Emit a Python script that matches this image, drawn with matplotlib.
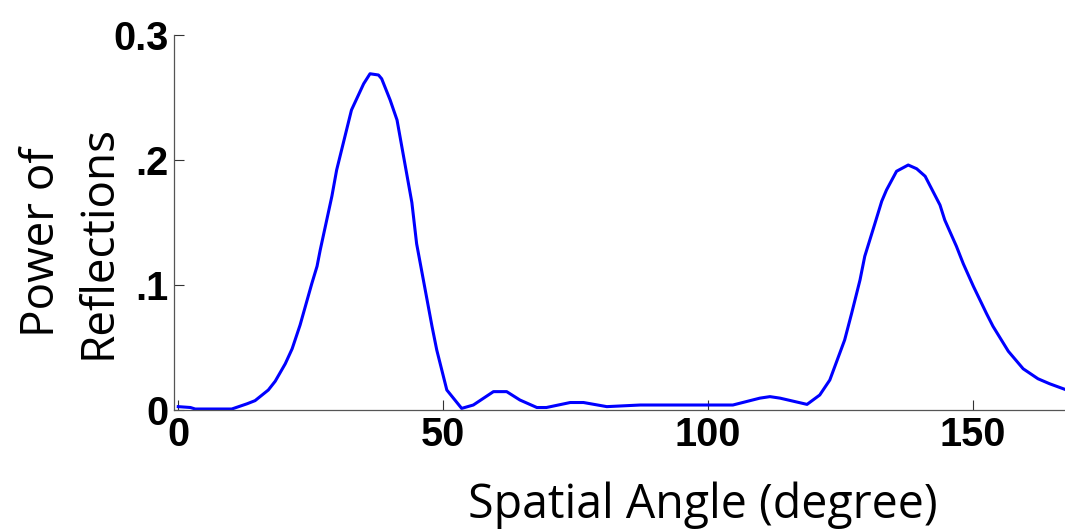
import matplotlib
matplotlib.use('Agg')
import matplotlib.pyplot as plt

# angle (degree) and power of reflections
angle = [0, 2.3, 3.2, 10.1, 13, 14.5, 17, 18.3, 20.2, 21.5, 23, 23.6, 25.2, 26.2,
         26.8, 29.0, 29.9, 32.7, 35.0, 36.2, 37.8, 38.4, 40.0, 41.3, 44.1, 45.0,
         47.9, 48.8, 50.7, 53.5, 55.7, 59.5, 62.0, 64.5, 67.7, 69.5, 74.0, 76.5,
         80.9, 87.2, 104.7, 109.8, 111.7, 113.6, 118.7, 121.1, 123.0, 125.8,
         127.1, 128.7, 129.6, 131.5, 132.8, 133.7, 135.6, 137.8, 139.4, 141.0,
         143.8, 144.7, 146.9, 148.2, 150.1, 152.6, 153.8, 156.7, 159.5, 162.3,
         164.5, 167.4]
power = [0.0027, 0.002, 0.0008, 0.0008, 0.005, 0.0075, 0.016, 0.023, 0.037, 0.049,
         0.068, 0.077, 0.101, 0.115, 0.128, 0.171, 0.192, 0.24, 0.261, 0.269,
         0.268, 0.265, 0.248, 0.232, 0.166, 0.133, 0.067, 0.048, 0.016, 0.0013,
         0.004, 0.0147, 0.0147, 0.008, 0.002, 0.002, 0.006, 0.006, 0.0027, 0.004,
         0.004, 0.0095, 0.0107, 0.0095, 0.0045, 0.012, 0.024, 0.056, 0.077,
         0.104, 0.123, 0.149, 0.167, 0.176, 0.191, 0.196, 0.193, 0.187, 0.164,
         0.152, 0.131, 0.117, 0.099, 0.077, 0.067, 0.047, 0.033, 0.025, 0.021,
         0.0165]

xticks = [0, 50, 100, 150]
yticks = [0, 0.1, 0.2, 0.3]
yticklabels = ['0', '.1', '.2', '0.3']

fig = plt.figure(figsize=(10.65, 5.32), dpi=100)
ax = fig.add_axes([0.1634, 0.2293, 0.8366, 0.7049])

ax.plot(angle, power, color='#0000ff', lw=2.2, solid_joinstyle='round')
ax.set_xlim(-0.8, 167.4)
ax.set_ylim(0, 0.3)

ax.spines['top'].set_visible(False)
ax.spines['right'].set_visible(False)
for s in ['left', 'bottom']:
    ax.spines[s].set_color('#555555')
    ax.spines[s].set_linewidth(0.9)

ax.set_xticks(xticks)
ax.set_yticks(yticks)
ax.set_yticklabels(yticklabels)
ax.tick_params(direction='in', length=7, width=0.8, color='#333333', labelsize=28.5, pad=4)
for lab in ax.get_xticklabels() + ax.get_yticklabels():
    lab.set_family('Liberation Sans')
    lab.set_fontweight('bold')

ax.set_ylabel('Power of\nReflections', family='Open Sans', fontsize=33, linespacing=1.3)
ax.yaxis.set_label_coords(-0.059, 0.448)
ax.set_xlabel('Spatial Angle (degree)', family='Open Sans', fontsize=33.5)
ax.xaxis.set_label_coords(0.594, -0.19)

fig.savefig('out.png', dpi=100)
